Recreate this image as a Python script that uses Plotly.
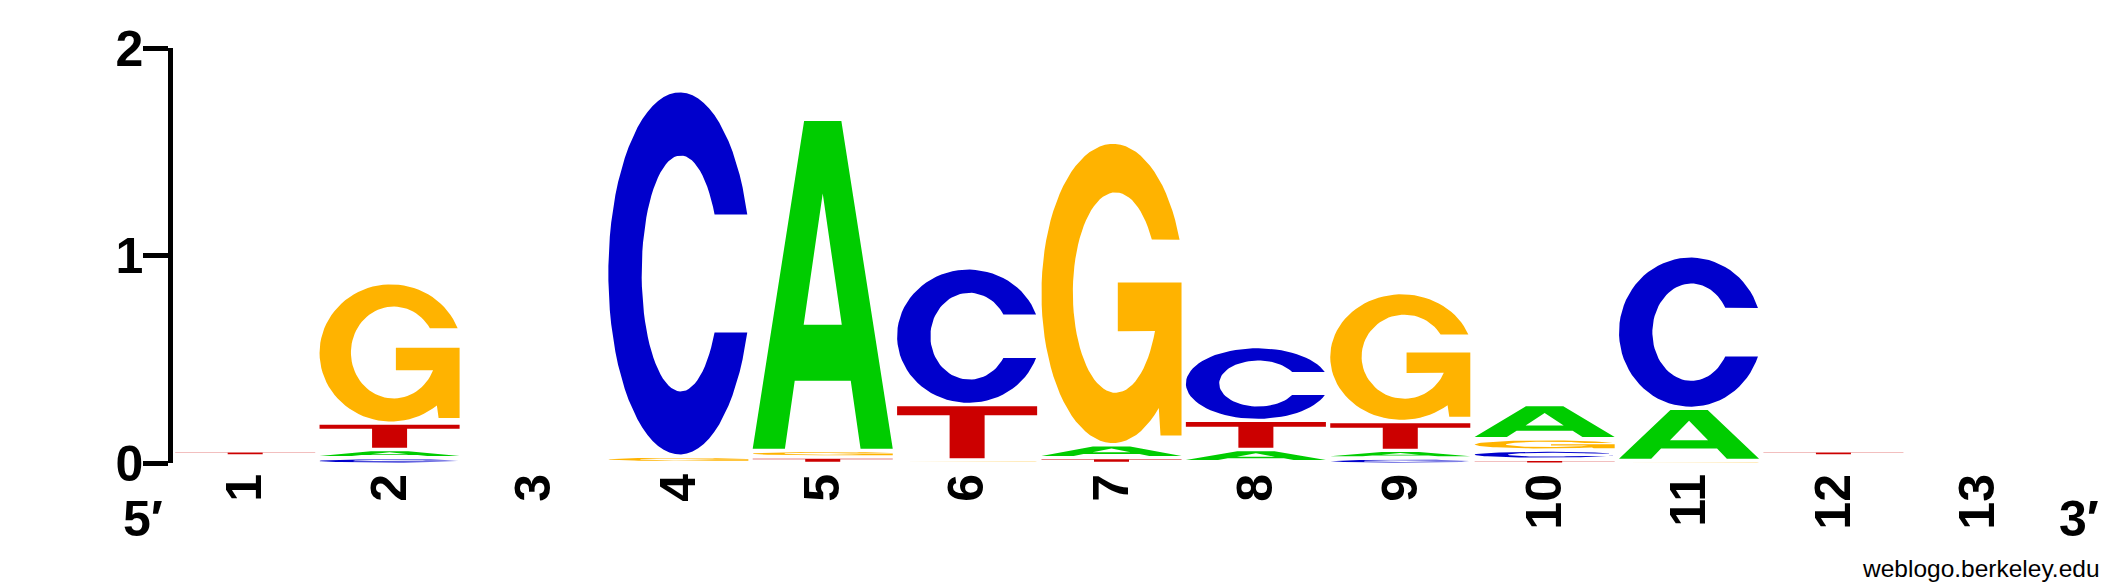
import numpy as np
import plotly.graph_objects as go

# information content (bits) per base at each position of the logo
positions = list(range(1, 14))
tick_labels = [str(p) for p in positions]
bits_A = [0.013, 0.039, 0.0, 0.004, 1.595, 0.004, 0.062, 0.059, 0.037, 0.165, 0.250, 0.013, 0.0]
bits_C = [0.013, 0.032, 0.0, 1.761, 0.004, 0.658, 0.004, 0.356, 0.030, 0.044, 0.735, 0.013, 0.0]
bits_G = [0.014, 0.677, 0.0, 0.031, 0.032, 0.017, 1.458, 0.012, 0.621, 0.055, 0.017, 0.014, 0.0]
bits_T = [0.025, 0.127, 0.0, 0.004, 0.031, 0.267, 0.028, 0.140, 0.139, 0.024, 0.002, 0.025, 0.0]

colors = {"A": "#00CC00", "C": "#0000CC", "G": "#FFB300", "T": "#CC0000"}
FONT = "Liberation Sans, Arial, Helvetica, sans-serif"
HALF = 0.485          # half width of a letter column
PAD_LO, PAD_HI = 0.002, 0.014   # little white gap between stacked letters


def arc(cx, cy, rx, ry, a0, a1, n=70):
    t = np.radians(np.linspace(a0, a1, n))
    return list(zip(cx + rx * np.cos(t), cy + ry * np.sin(t)))


def glyph(letter):
    # outlines in a unit box, roughly Helvetica Bold; None starts a hole
    if letter == "A":
        outer = [(0, 0), (0.23, 0), (0.30, 0.207), (0.70, 0.207), (0.77, 0), (1, 0),
                 (0.633, 1), (0.367, 1), (0, 0)]
        hole = [(0.364, 0.378), (0.5, 0.779), (0.636, 0.378), (0.364, 0.378)]
        return outer + [None] + hole
    if letter == "T":
        return [(0, 1), (0, 0.825), (0.375, 0.825), (0.375, 0), (0.625, 0),
                (0.625, 0.825), (1, 0.825), (1, 1), (0, 1)]
    if letter == "C":
        pts = arc(0.51, 0.5, 0.51, 0.5, 19, 341) + arc(0.517, 0.5, 0.279, 0.326, 330, 30)
        return pts + [pts[0]]
    # G
    pts = arc(0.51, 0.5, 0.51, 0.5, 21, 310)
    pts += [(0.85, 0.025), (1.0, 0.025), (1.0, 0.537), (0.545, 0.537), (0.545, 0.374)]
    pts += arc(0.529, 0.503, 0.305, 0.335, -22.6, -328.1)
    return pts + [pts[0]]


fig = go.Figure()
table = {"A": bits_A, "C": bits_C, "G": bits_G, "T": bits_T}
for i, pos in enumerate(positions):
    stack = sorted(table, key=lambda b: table[b][i])
    base = 0.0
    for letter in stack:
        h = table[letter][i]
        y0, y1 = base + PAD_LO, base + h - PAD_HI
        base += h
        if y1 <= y0:
            continue
        xs, ys = [], []
        for p in glyph(letter):
            if p is None:
                xs.append(None)
                ys.append(None)
            else:
                xs.append(pos - HALF + p[0] * 2 * HALF)
                ys.append(y0 + p[1] * (y1 - y0))
        fig.add_trace(go.Scatter(x=xs, y=ys, mode="lines", fill="toself",
                                 fillcolor=colors[letter], line=dict(width=0),
                                 hoverinfo="skip", showlegend=False))

big = dict(family=FONT, size=50, color="black", weight="bold")
fig.add_annotation(xref="paper", yref="paper", x=-0.0158, y=-0.134, text="5′",
                   xanchor="center", yanchor="middle", showarrow=False, font=big)
fig.add_annotation(xref="paper", yref="paper", x=1.0155, y=-0.134, text="3′",
                   xanchor="center", yanchor="middle", showarrow=False, font=big)
fig.add_annotation(xref="paper", yref="paper", x=1.0275, y=-0.2535,
                   xanchor="right", yanchor="middle", text="weblogo.berkeley.edu",
                   showarrow=False, font=dict(family=FONT, size=24.5, color="black"))

fig.update_xaxes(range=[0.5, 13.5], tickvals=positions, ticktext=tick_labels,
                 tickangle=-90, showline=False, showgrid=False, zeroline=False, ticks="",
                 tickfont=big)
fig.update_yaxes(range=[0, 2], tickvals=[0, 1, 2], showline=True, linewidth=4.6,
                 linecolor="black", ticks="outside", ticklen=25, tickwidth=4.5,
                 tickcolor="black", showgrid=False, zeroline=False,
                 ticklabelstandoff=-10, tickfont=big)
# the page body adds 8px on the left and top, so the figure is 8px smaller
fig.update_layout(width=2117, height=580, plot_bgcolor="white", paper_bgcolor="white",
                  margin=dict(l=165, r=75.4, t=31, b=124.9))

fig.write_html("out.html")
